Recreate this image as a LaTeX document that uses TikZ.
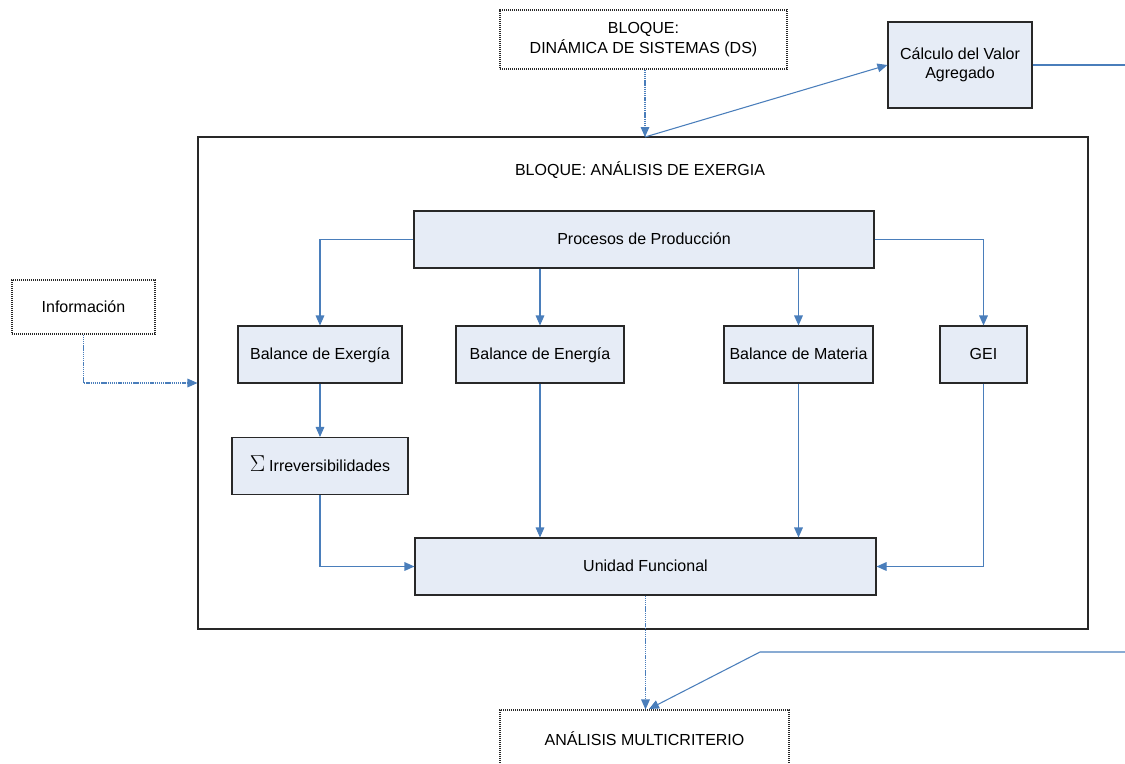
\documentclass[tikz,border=0pt]{standalone}
\usepackage{fontspec}
\setmainfont{Liberation Sans}
\usetikzlibrary{arrows.meta}
\newdimen\px \px=0.75pt
\definecolor{flowblue}{RGB}{74,126,187}
\definecolor{boxfill}{RGB}{230,236,246}
\definecolor{boxline}{RGB}{40,40,40}
\tikzset{
  blk/.style={draw=boxline, line width=0.8pt, fill=boxfill, align=center, inner sep=0pt,
              font=\fontsize{12}{14.4}\selectfont},
  oneline/.style={text height=8pt, text depth=0.5pt},
  dotbox/.style={draw=boxline, line width=0.8pt, dash pattern=on 0.9pt off 0.6pt, fill=white,
              align=center, inner sep=0pt, font=\fontsize{12}{14.4}\selectfont},
  frame/.style={draw=boxline, line width=0.8pt, inner sep=0pt},
  flow/.style={draw=flowblue, line width=0.8pt, -{Triangle[length=7.5pt,width=6.5pt]}},
  plainflow/.style={draw=flowblue, line width=0.8pt},
  dotflow/.style={draw=flowblue, line width=0.8pt, dash pattern=on 1pt off 0.6pt,
              -{Triangle[length=7.5pt,width=6.5pt]}},
  lbl/.style={font=\fontsize{12}{14.4}\selectfont, inner sep=0pt}
}
\begin{document}
\begin{tikzpicture}[x=0.75pt, y=-0.75pt]
\useasboundingbox (0,0) rectangle (1125,764);

% outer block
\node[frame, minimum width=890\px, minimum height=492\px] (big) at (643,383) {};
\node[lbl] (title) at (640,170) {BLOQUE: ANÁLISIS DE EXERGIA};

% external blocks
\node[dotbox, minimum width=287\px, minimum height=59\px] (ds) at (643.5,39.5)
  {BLOQUE:\\DINÁMICA DE SISTEMAS (DS)};
\node[blk, minimum width=144\px, minimum height=86\px] (calc) at (960,65)
  {Cálculo del Valor\\Agregado};
\node[dotbox, oneline, minimum width=143\px, minimum height=54\px] (info) at (83.5,307) {Información};
\node[dotbox, oneline, minimum width=289\px, minimum height=60\px] (mc) at (644.5,740) {ANÁLISIS MULTICRITERIO};

% inner blocks
\node[blk, oneline, minimum width=460\px, minimum height=57\px] (proc) at (644,239.5) {Procesos de Producción};
\node[blk, oneline, minimum width=164\px, minimum height=57\px] (exer) at (320,354.5) {Balance de Exergía};
\node[blk, oneline, minimum width=168\px, minimum height=57\px] (ener) at (540,354.5) {Balance de Energía};
\node[blk, oneline, minimum width=149\px, minimum height=57\px] (mat) at (798.5,354.5) {Balance de Materia};
\node[blk, oneline, minimum width=87\px, minimum height=57\px] (gei) at (983.5,354.5) {GEI};
\node[blk, oneline, minimum width=176\px, minimum height=57\px] (irr) at (320,466)
  {{\fontsize{16}{16}\selectfont$\Sigma$}\kern3pt Irreversibilidades};
\node[blk, oneline, minimum width=461\px, minimum height=57\px] (uni) at (645.5,566.5) {Unidad Funcional};

% free ends
\coordinate (hub) at (645,137);
\coordinate (calcout) at (1125,65);
\coordinate (mcin) at (1125,652);
\coordinate (mcbend) at (760,652);
\coordinate (mctip) at (649,709);

% connectors outside the block
\draw[dotflow] (ds.south -| hub) -- (hub);
\draw[flow] (hub) -- (calc.west);
\draw[plainflow] (calc.east) -- (calcout);
\draw[dotflow] (info.south) |- (big.west);
\draw[dotflow] (uni.south) -- (uni.south |- mc.north);
\draw[flow] (mcin) -- (mcbend) -- (mctip);

% connectors inside the block
\draw[flow] (proc.west) -| (exer.north);
\draw[flow] (proc.east) -| (gei.north);
\draw[flow] (proc.south -| ener.north) -- (ener.north);
\draw[flow] (proc.south -| mat.north) -- (mat.north);
\draw[flow] (exer.south) -- (irr.north);
\draw[flow] (irr.south) |- (uni.west);
\draw[flow] (ener.south) -- (ener.south |- uni.north);
\draw[flow] (mat.south) -- (mat.south |- uni.north);
\draw[flow] (gei.south) |- (uni.east);
\end{tikzpicture}
\end{document}
